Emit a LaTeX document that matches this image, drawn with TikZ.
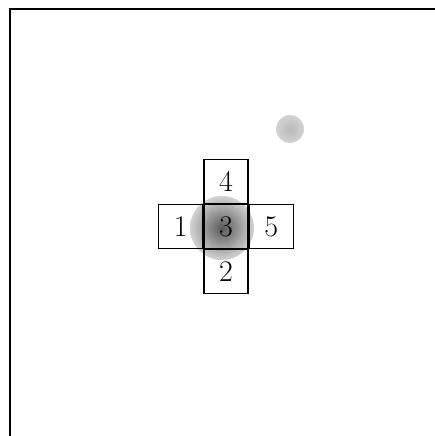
\documentclass[tikz,border=0pt]{standalone}
\usetikzlibrary{positioning}

\tikzset{
  cell/.style={draw,line width=1.2pt,minimum size=44pt,inner sep=0pt,font=\fontsize{30}{30}\selectfont},
  blob/.style={circle,inner sep=0pt,shading=radial}
}

\begin{document}
\begin{tikzpicture}[x=1pt,y=-1pt]
            \useasboundingbox (0,0) rectangle (435,436);
            % Draw frame
            \draw[line width=1.8pt] (10,436) -- (10,9) -- (435,9);

            % Draw gray spots
            \node[blob,minimum size=64pt,inner color=black!65,outer color=gray!35] (bigspot) at (222,228) {};
            \node[blob,minimum size=28pt,inner color=gray!55,outer color=gray!35] (smallspot) at (290,129) {};

            % Draw cells
            \node[cell] (c3) at (226,226.5) {3};
            \node[cell,left=0pt of c3] (c1) {1};
            \node[cell,right=0pt of c3] (c5) {5};
            \node[cell,above=0pt of c3] (c4) {4};
            \node[cell,below=0pt of c3] (c2) {2};
          \end{tikzpicture}
\end{document}
